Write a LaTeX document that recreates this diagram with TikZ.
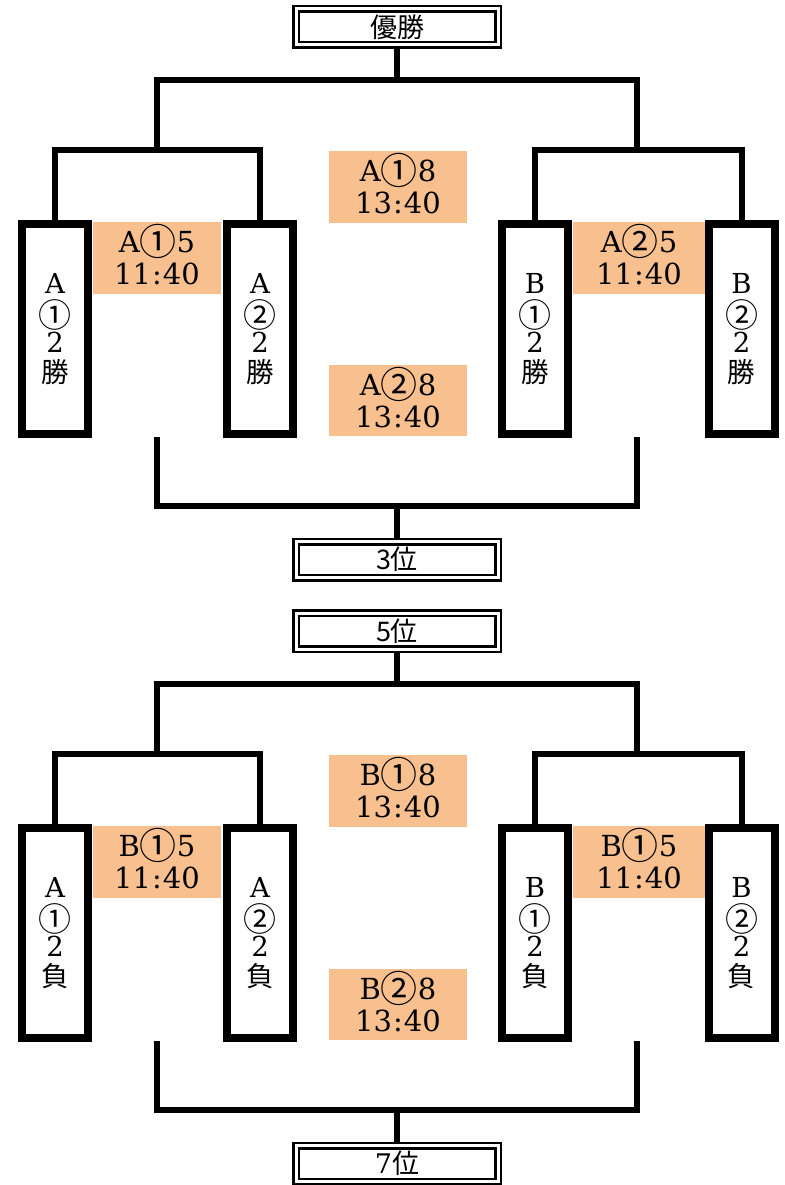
\documentclass[tikz,border=0pt]{standalone}
\usepackage{fontspec}
\setmainfont{DejaVu Serif}
\newfontfamily\jp{Noto Sans CJK JP}
\definecolor{orng}{RGB}{248,192,143}
\newcommand\fs{\fontsize{27.5}{29.5}\selectfont}
\newcommand\fm{\fontsize{29}{32}\selectfont}
% circled digit in player boxes / match boxes
\newcommand\cir[1]{\smash{\raisebox{-4pt}{\jp\fontsize{33}{33}\selectfont #1}}}
\newcommand\cim[1]{\smash{\raisebox{-3pt}{\jp\fontsize{37}{33}\selectfont #1}}}
\newcommand\tc{\kern1pt:\kern1pt}
\tikzset{
  br/.style={line width=6pt},
  player/.style={draw, line width=8pt, minimum width=66pt, minimum height=210pt, inner sep=0pt, align=center, font=\fs},
  match/.style={fill=orng, minimum height=72pt, inner sep=0pt, align=center, font=\fm},
  title/.style={draw, double, line width=2.5pt, double distance=3pt, minimum width=202pt, minimum height=36pt, inner sep=0pt, outer sep=4pt, font=\jp\fontsize{27}{28}\selectfont},
}
\newcommand\half[9]{%
  \begin{scope}[yshift=#1]
    \node[title] (#2t) at (397,27) {#3};
    \node[title] (#2b) at (397,559.5) {#4};
    \node[player] (#2p1) at (55,329) {A\\\cir{①}\\2\\{\jp #5}};
    \node[player] (#2p2) at (260,329) {A\\\cir{②}\\2\\{\jp #5}};
    \node[player] (#2p3) at (535,329) {B\\\cir{①}\\2\\{\jp #5}};
    \node[player] (#2p4) at (741.5,329) {B\\\cir{②}\\2\\{\jp #5}};
    \node[match, minimum width=128pt] (#2m1) at (157,258) {#6\\11\tc40};
    \node[match, minimum width=132pt] (#2m2) at (639,258) {#7\\11\tc40};
    \node[match, minimum width=138pt] (#2c1) at (398,187) {#8\\13\tc40};
    \node[match, minimum width=138pt, minimum height=71pt] (#2c2) at (398,400.5) {#9\\13\tc40};
    \coordinate (#2L) at (157,150);
    \coordinate (#2R) at (637,150);
    \coordinate (#2top) at (397,80);
    \coordinate (#2bl) at (157,437);
    \coordinate (#2br) at (637,437);
    \coordinate (#2bot) at (397,506);
    \draw[br] (#2p1.north) |- (#2L) -| (#2p2.north);
    \draw[br] (#2p3.north) |- (#2R) -| (#2p4.north);
    \draw[br] (#2L) |- (#2top) -| (#2R);
    \draw[br] (#2top) -- (#2t.south);
    \draw[br] (#2bl) |- (#2bot) -| (#2br);
    \draw[br] (#2bot) -- (#2b.north);
  \end{scope}}
\begin{document}
\begin{tikzpicture}[x=1pt, y=-1pt]
  \useasboundingbox (0,0) rectangle (784,1185);
  \half{0pt}{u}{優勝}{3位}{勝}{A\cim{①}5}{A\cim{②}5}{A\cim{①}8}{A\cim{②}8}
  \half{-604pt}{d}{5位}{{\fontspec{DejaVu Serif}7}位}{負}{B\cim{①}5}{B\cim{①}5}{B\cim{①}8}{B\cim{②}8}
\end{tikzpicture}
\end{document}
